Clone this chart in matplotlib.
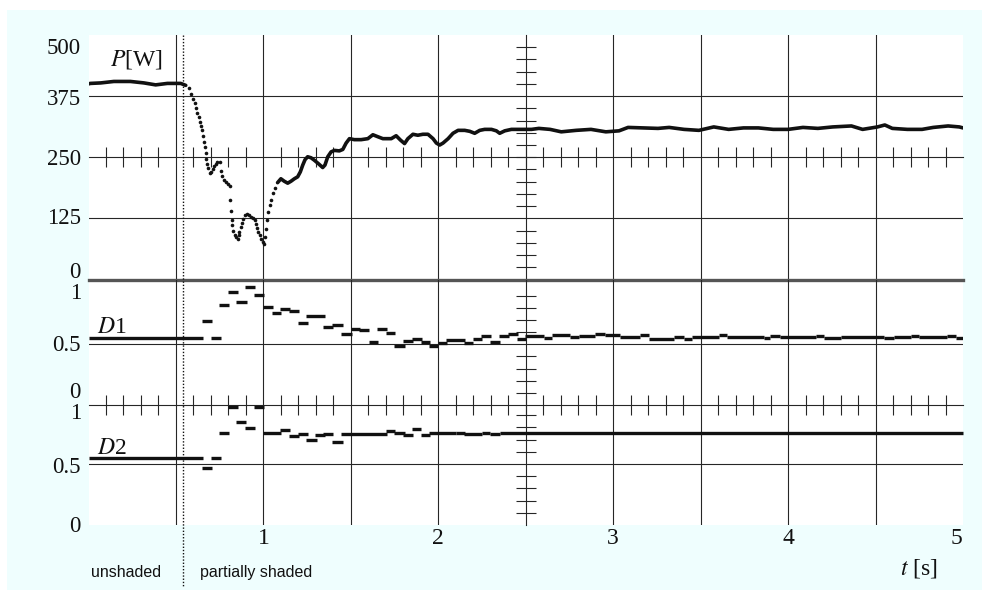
import numpy as np
import matplotlib
matplotlib.use("Agg")
from matplotlib import pyplot as plt
from matplotlib import transforms
from matplotlib.lines import Line2D
from matplotlib.patches import Rectangle

plt.rcParams["font.family"] = ["Liberation Serif", "DejaVu Serif"]
plt.rcParams["mathtext.fontset"] = "stix"

# ---- data ----
t_shade = 0.542  # moment the partial shading starts

# P [W], steady part before shading (drawn as line)
p_start_t = [0.0, 0.011, 0.07, 0.145, 0.24, 0.317, 0.384, 0.451, 0.527, 0.556]
p_start = [400, 401, 402, 405, 405, 402, 398, 401, 401, 397]

# P [W], fast transient (single samples, drawn as dots)
p_dots_t = [0.575, 0.588, 0.600, 0.607, 0.617, 0.623, 0.630, 0.636, 0.642, 0.648,
            0.655, 0.661, 0.665, 0.670, 0.674, 0.680, 0.686, 0.695, 0.703, 0.711,
            0.718, 0.728, 0.737, 0.749, 0.756, 0.766, 0.776, 0.785, 0.799, 0.808,
            0.810, 0.814, 0.819, 0.823, 0.829, 0.837, 0.844, 0.852, 0.858, 0.863,
            0.871, 0.879, 0.886, 0.894, 0.905, 0.917, 0.928, 0.942, 0.951, 0.959,
            0.965, 0.970, 0.978, 0.986, 0.995, 1.003, 1.011, 1.016, 1.022, 1.028,
            1.035, 1.043, 1.053, 1.066]
p_dots = [391, 380, 370, 360, 350, 341, 333, 322, 314, 305,
          293, 281, 271, 258, 247, 237, 227, 217, 220, 225,
          232, 237, 240, 241, 222, 211, 204, 199, 195, 191,
          163, 141, 122, 111, 100, 92, 87, 83, 90, 98,
          107, 116, 124, 131, 133, 131, 128, 126, 122, 114,
          106, 98, 90, 83, 77, 73, 87, 104, 121, 138,
          152, 163, 176, 188]

# P [W], recovery and new operating point (drawn as line)
p_end_t = [1.081, 1.100, 1.119, 1.139, 1.158, 1.177, 1.196, 1.211, 1.225, 1.238,
           1.253, 1.272, 1.291, 1.314, 1.339, 1.352, 1.368, 1.387, 1.406, 1.434,
           1.454, 1.473, 1.492, 1.520, 1.559, 1.597, 1.626, 1.654, 1.683, 1.731,
           1.759, 1.784, 1.807, 1.826, 1.855, 1.883, 1.912, 1.941, 1.970, 1.989,
           2.008, 2.027, 2.056, 2.084, 2.113, 2.151, 2.180, 2.208, 2.237, 2.265,
           2.304, 2.332, 2.351, 2.380, 2.418, 2.476, 2.533, 2.575, 2.639, 2.703,
           2.788, 2.873, 2.958, 3.033, 3.085, 3.171, 3.256, 3.320, 3.405, 3.490,
           3.575, 3.660, 3.745, 3.830, 3.915, 4.000, 4.085, 4.170, 4.255, 4.362,
           4.426, 4.511, 4.553, 4.596, 4.682, 4.766, 4.830, 4.915, 4.979, 5.0]
p_end = [198, 206, 201, 197, 201, 206, 210, 220, 234, 245,
         251, 249, 244, 237, 229, 234, 251, 261, 264, 263,
         266, 279, 288, 286, 286, 288, 296, 292, 288, 288,
         294, 285, 278, 288, 297, 295, 297, 297, 288, 279,
         275, 279, 288, 299, 305, 305, 303, 299, 305, 307,
         307, 304, 299, 304, 307, 307, 307, 309, 307, 302,
         305, 307, 302, 304, 311, 310, 309, 311, 307, 305,
         312, 307, 310, 310, 307, 307, 311, 309, 312, 314,
         307, 312, 316, 309, 307, 307, 311, 314, 312, 310]

# duty cycle D1: held values (start time, end time, value)
d1_t0 = [0.0, 0.648, 0.699, 0.748, 0.800, 0.844, 0.895, 0.947, 1.000, 1.048,
         1.096, 1.147, 1.195, 1.244, 1.343, 1.395, 1.445, 1.500, 1.548, 1.601,
         1.649, 1.700, 1.748, 1.801, 1.849, 1.900, 1.948, 1.998, 2.045, 2.148,
         2.196, 2.245, 2.297, 2.348, 2.398, 2.449, 2.497, 2.602, 2.650, 2.755,
         2.803, 2.898, 2.955, 3.040, 3.155, 3.203, 3.346, 3.403, 3.451, 3.604,
         3.651, 3.861, 3.899, 3.956, 4.157, 4.205, 4.300, 4.548, 4.605, 4.700,
         4.748, 4.910, 4.958]
d1_t1 = [0.653, 0.705, 0.756, 0.806, 0.853, 0.905, 0.953, 1.004, 1.054, 1.101,
         1.153, 1.202, 1.254, 1.353, 1.400, 1.454, 1.506, 1.553, 1.601, 1.654,
         1.706, 1.753, 1.807, 1.858, 1.906, 1.954, 2.001, 2.049, 2.154, 2.201,
         2.249, 2.303, 2.354, 2.402, 2.455, 2.503, 2.602, 2.650, 2.755, 2.803,
         2.898, 2.955, 3.040, 3.155, 3.203, 3.346, 3.403, 3.451, 3.604, 3.651,
         3.861, 3.899, 3.956, 4.157, 4.205, 4.300, 4.548, 4.605, 4.700, 4.748,
         4.910, 4.958, 5.0]
d1_val = [0.554, 0.692, 0.554, 0.821, 0.931, 0.848, 0.972, 0.903, 0.805, 0.755,
          0.793, 0.774, 0.673, 0.731, 0.645, 0.659, 0.582, 0.629, 0.620, 0.516,
          0.629, 0.590, 0.489, 0.527, 0.541, 0.516, 0.489, 0.513, 0.535, 0.513,
          0.544, 0.568, 0.516, 0.571, 0.582, 0.541, 0.568, 0.555, 0.579, 0.560,
          0.568, 0.585, 0.574, 0.560, 0.574, 0.546, 0.557, 0.546, 0.560, 0.574,
          0.560, 0.552, 0.565, 0.557, 0.565, 0.555, 0.563, 0.555, 0.563, 0.568,
          0.560, 0.568, 0.555]

# duty cycle D2: held values (start time, end time, value)
d2_t0 = [0.0, 0.648, 0.699, 0.748, 0.800, 0.844, 0.895, 0.947, 1.000, 1.096,
         1.147, 1.195, 1.244, 1.297, 1.343, 1.395, 1.445, 1.700, 1.748, 1.801,
         1.849, 1.900, 1.948, 2.101, 2.148, 2.249, 2.297, 2.354]
d2_t1 = [0.653, 0.705, 0.756, 0.803, 0.853, 0.901, 0.953, 1.004, 1.101, 1.153,
         1.202, 1.254, 1.306, 1.353, 1.400, 1.454, 1.706, 1.753, 1.807, 1.858,
         1.900, 1.954, 2.101, 2.154, 2.249, 2.297, 2.354, 5.0]
d2_val = [0.552, 0.470, 0.552, 0.751, 0.967, 0.847, 0.792, 0.967, 0.751, 0.779,
          0.730, 0.743, 0.697, 0.738, 0.743, 0.680, 0.746, 0.773, 0.751, 0.738,
          0.784, 0.738, 0.751, 0.757, 0.746, 0.757, 0.743, 0.755]

p_labels = [500, 375, 250, 125, 0]
d_labels = [1, 0.5, 0]
t_labels = [1, 2, 3, 4, 5]

# ---- layout (pixel boxes of the original screenshot) ----
W, H = 982, 596
INK = "#111111"
GRID = "#262626"
X0, X1 = 88.5, 963


def px_box(x0, y0, x1, y1):
    return [x0 / W, 1 - y1 / H, (x1 - x0) / W, (y1 - y0) / H]


def style_axes(ax, ylim, y_grid, y_minor, axis_at):
    ax.set_xlim(0, 5)
    ax.set_ylim(*ylim)
    ax.set_facecolor("none")
    ax.set_axisbelow(True)
    ax.spines["top"].set_visible(False)
    ax.spines["right"].set_visible(False)
    ax.spines["left"].set_position(("data", 2.5))
    ax.set_xticks([0.5, 1, 1.5, 2, 3, 3.5, 4, 4.5])
    ax.set_yticks(y_grid)
    ax.set_yticks(y_minor, minor=True)
    if axis_at is None:
        ax.spines["bottom"].set_visible(False)
    else:
        ax.spines["bottom"].set_position(("data", axis_at))
        ax.set_xticks(np.round(np.arange(0.1, 5.0, 0.1), 2), minor=True)
    for sp in ax.spines.values():
        sp.set_color(GRID)
        sp.set_linewidth(0.8)
    ax.grid(True, which="major", color=GRID, lw=0.8)
    ax.tick_params(which="major", length=0, labelbottom=False, labelleft=False)
    ax.tick_params(which="minor", direction="inout", length=14.4, width=0.8,
                   color=GRID, labelbottom=False, labelleft=False)


def left_label(ax, text, value, dy_px):
    ax.annotate(text, xy=(0, value), xycoords=ax.get_yaxis_transform(),
                xytext=(-7.5 * 0.72, dy_px * 0.72), textcoords="offset points",
                ha="right", va="center", fontsize=16.5, color=INK)


fig = plt.figure(figsize=(W / 100, H / 100), dpi=100)
fig.patch.set_facecolor("white")
fig.add_artist(Rectangle((7 / W, 1 - 590 / H), 975 / W, 580 / H,
                         transform=fig.transFigure, facecolor="#effefe",
                         edgecolor="none", zorder=-20))
fig.add_artist(Rectangle((X0 / W, 1 - 525 / H), (X1 - X0) / W, 490 / H,
                         transform=fig.transFigure, facecolor="white",
                         edgecolor="none", zorder=-10))

ax_p = fig.add_axes(px_box(X0, 35, X1, 279.5))
ax_d1 = fig.add_axes(px_box(X0, 279.5, X1, 405))
ax_d2 = fig.add_axes(px_box(X0, 405, X1, 525))

style_axes(ax_p, (0, 500), [125, 375], np.arange(25, 500, 25), 250)
style_axes(ax_d1, (0, 1.034), [0.5], np.round(np.arange(0.1, 1.0, 0.1), 2), 0)
style_axes(ax_d2, (0, 0.984), [0.5], np.round(np.arange(0.1, 0.95, 0.1), 2), None)

# power trace
ax_p.plot(p_start_t, p_start, color=INK, lw=2.6, solid_capstyle="round", zorder=3)
ax_p.plot(p_dots_t, p_dots, "o", ms=2.6, color=INK, mec="none", zorder=3)
ax_p.plot(p_end_t, p_end, color=INK, lw=2.6, solid_joinstyle="round",
          solid_capstyle="round", zorder=3)
ax_p.axhline(0, color="#555555", lw=2.4, clip_on=False, zorder=4)

# duty cycles
ax_d1.hlines(d1_val, d1_t0, d1_t1, colors=INK, lw=2.4, zorder=3)
ax_d2.hlines(d2_val, d2_t0, d2_t1, colors=INK, lw=2.4, zorder=3, clip_on=False)

# shading instant, dotted down through the caption row
trans = transforms.blended_transform_factory(ax_p.transData, fig.transFigure)
fig.add_artist(Line2D([t_shade, t_shade], [1 - 35 / H, 1 - 586 / H], transform=trans,
                      color=INK, lw=1.0, ls=(0, (1, 1.3))))

# y labels
for v, dy in zip(p_labels, [-13.5, -3, -2.5, -0.5, 7.5]):
    left_label(ax_p, str(v), v, dy)
for v, dy in zip(d_labels, [-10, -1.5, 13]):
    left_label(ax_d1, str(v), v, dy)
for v, dy in zip(d_labels, [-10.5, -3, -2]):
    left_label(ax_d2, str(v), v, dy)

# t labels
for t in t_labels:
    ax_d2.annotate(str(t), xy=(t, 0), xycoords=ax_d2.get_xaxis_transform(),
                   xytext=(-7 * 0.72 if t == 5 else 0, -14 * 0.72),
                   textcoords="offset points", ha="center", va="center",
                   fontsize=17, color=INK)

ax_p.text((110 - X0) / (X1 - X0), 0.877, r"$P$[W]", transform=ax_p.transAxes,
          fontsize=17, color=INK, va="baseline")
ax_d1.text((97 - X0) / (X1 - X0), 0.574, r"$D$1", transform=ax_d1.transAxes,
           fontsize=17, color=INK, va="baseline")
ax_d2.text((97 - X0) / (X1 - X0), 0.594, r"$D$2", transform=ax_d2.transAxes,
           fontsize=17, color=INK, va="baseline")

fig.text(938 / W, 1 - 575 / H, r"$t$ [s]", ha="right", va="baseline",
         fontsize=17, color=INK)
fig.text(91 / W, 1 - 577 / H, "unshaded", ha="left", va="baseline",
         fontsize=11.5, color=INK, family="Liberation Sans")
fig.text(200 / W, 1 - 577 / H, "partially shaded", ha="left", va="baseline",
         fontsize=11.5, color=INK, family="Liberation Sans")

fig.savefig("out.png", dpi=100)
